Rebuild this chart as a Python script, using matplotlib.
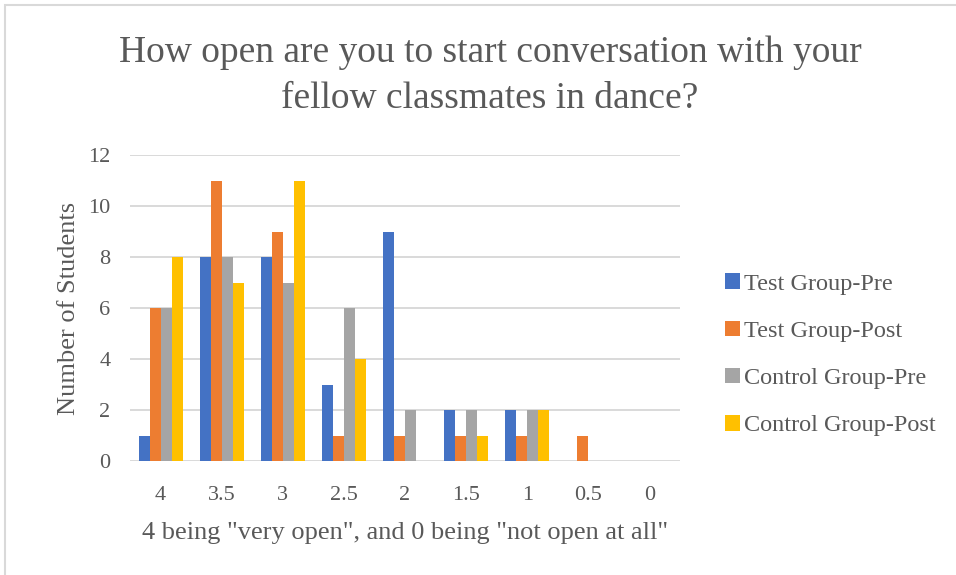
import numpy as np
import matplotlib
matplotlib.use("Agg")
import matplotlib.pyplot as plt
from matplotlib.patches import Rectangle

# survey responses: number of students per openness rating
ratings = ["4", "3.5", "3", "2.5", "2", "1.5", "1", "0.5", "0"]
test_pre = [1, 8, 8, 3, 9, 2, 2, 0, 0]
test_post = [6, 11, 9, 1, 1, 1, 1, 1, 0]
control_pre = [6, 8, 7, 6, 2, 2, 2, 0, 0]
control_post = [8, 7, 11, 4, 0, 1, 2, 0, 0]
series_names = ["Test Group-Pre", "Test Group-Post", "Control Group-Pre", "Control Group-Post"]
colors = ["#4472C4", "#ED7D31", "#A5A5A5", "#FFC000"]

TXT = "#595959"
plt.rcParams["font.family"] = ["Liberation Serif", "DejaVu Serif"]

fig = plt.figure(figsize=(9.56, 5.75), dpi=100)
W, H = 956, 575
# plot area in pixels: x 130..680, y 155..461
ax = fig.add_axes([130 / W, 1 - 461 / H, 550 / W, 306 / H])

x = np.arange(len(ratings))
bw = 0.18
series = [test_pre, test_post, control_pre, control_post]
for i, (vals, name, c) in enumerate(zip(series, series_names, colors)):
    ax.bar(x + (i - 1.5) * bw, vals, width=bw, color=c, label=name, zorder=3)

ax.set_xlim(-0.5, len(ratings) - 0.5)
ax.set_ylim(0, 12)
ax.set_yticks(range(0, 13, 2))
ax.set_xticks(x)
ax.set_xticklabels(ratings)
ax.grid(axis="y", color="#d9d9d9", lw=1.4, zorder=0)
for s in ax.spines.values():
    s.set_visible(False)
ax.tick_params(length=0, labelsize=16, colors=TXT)
ax.tick_params(axis="x", pad=18)
ax.tick_params(axis="y", pad=14)
ax.set_ylabel("Number of Students", fontsize=19, color=TXT, labelpad=6)
ax.set_xlabel('4 being "very open", and 0 being "not open at all"', fontsize=19,
              color=TXT, labelpad=12)

fig.text(490 / W, 1 - 76 / H,
         "How open are you to start conversation with your\nfellow classmates in dance?",
         ha="center", va="center", fontsize=27, color=TXT, linespacing=1.42)

leg = ax.legend(loc="center left", bbox_to_anchor=(1.042, 0.347), frameon=False,
                fontsize=17.5, handlelength=0.6, handleheight=0.6, handletextpad=0.2,
                labelspacing=1.07)
for t in leg.get_texts():
    t.set_color(TXT)

# chart border
fig.patches.append(Rectangle((5 / W, -0.02), 1.1, 1 - 5 / H + 0.02, transform=fig.transFigure,
                             fill=False, edgecolor="#d9d9d9", lw=1.5))

fig.savefig("out.png", dpi=100)
